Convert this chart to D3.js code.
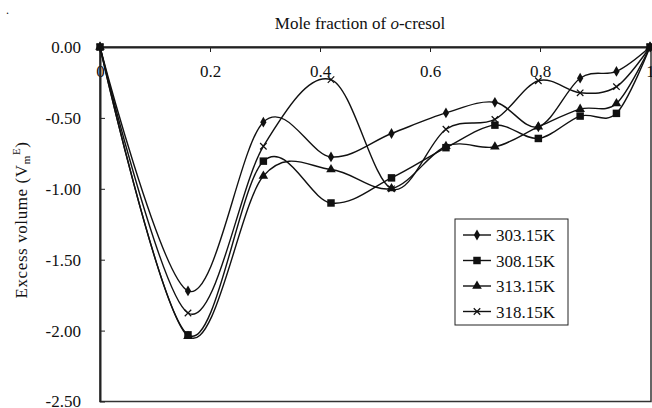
<!DOCTYPE html>
<html>
<head>
<meta charset="utf-8">
<script src="https://cdn.jsdelivr.net/npm/d3@7"></script>
<style>
  body { margin: 0; background: #fff; }
  svg text { font-family: "Liberation Serif", "Times New Roman", Tinos, "DejaVu Serif", serif; fill: #111; }
</style>
</head>
<body>
<div id="chart"></div>
<script>
// mole fraction of o-cresol
const moleFraction = [0, 0.16, 0.297, 0.42, 0.53, 0.629, 0.718, 0.797, 0.873, 0.939, 1];

// excess volume per temperature
const v303 = [0, -1.72, -0.53, -0.775, -0.61, -0.465, -0.39, -0.563, -0.22, -0.172, 0];
const v308 = [0, -2.03, -0.805, -1.10, -0.923, -0.71, -0.551, -0.645, -0.487, -0.468, 0];
const v313 = [0, -2.04, -0.91, -0.864, -0.998, -0.70, -0.704, -0.563, -0.438, -0.398, 0];
const v318 = [0, -1.876, -0.70, -0.23, -1.0, -0.58, -0.511, -0.238, -0.323, -0.28, 0];

const seriesNames = ["303.15K", "308.15K", "313.15K", "318.15K"];
const seriesValues = [v303, v308, v313, v318];
const markerKinds = ["diamond", "square", "triangle", "cross"];

const xTicks = [0, 0.2, 0.4, 0.6, 0.8, 1];
const yTicks = [0, -0.5, -1, -1.5, -2, -2.5];

const width = 652, height = 408;
const plot = { left: 100, top: 47, right: 651, bottom: 401.5 };
const serif = "'Liberation Serif', 'Times New Roman', Tinos, 'DejaVu Serif', serif";

const svg = d3.select("#chart").append("svg")
    .attr("width", width)
    .attr("height", height)
    .attr("font-family", serif);

const x = d3.scaleLinear().domain([0, 1]).range([plot.left, 650]);
const y = d3.scaleLinear().domain([0, -2.5]).range([plot.top, plot.bottom]);

// plot frame (right + bottom)
svg.append("rect")
    .attr("x", plot.left)
    .attr("y", plot.top)
    .attr("width", plot.right - plot.left)
    .attr("height", plot.bottom - plot.top)
    .attr("fill", "none")
    .attr("stroke", "#333")
    .attr("stroke-width", 1.5);

// top x axis, ticks pointing into the plot
const xAxis = svg.append("g")
    .attr("transform", `translate(0,${plot.top})`)
    .call(d3.axisBottom(x)
        .tickValues(xTicks)
        .tickSizeInner(5)
        .tickSizeOuter(0)
        .tickPadding(13)
        .tickFormat(d => d === 0 ? "0" : d === 1 ? "1" : d.toFixed(1)));
xAxis.attr("font-family", serif).attr("font-size", 17);
xAxis.select(".domain").attr("stroke", "#222").attr("stroke-width", 2);
xAxis.selectAll(".tick line").attr("stroke", "#222");
xAxis.selectAll("text").attr("fill", "#111");

// left y axis
const yAxis = svg.append("g")
    .attr("transform", `translate(${plot.left},0)`)
    .call(d3.axisLeft(y)
        .tickValues(yTicks)
        .tickSizeInner(-5)
        .tickSizeOuter(0)
        .tickPadding(19)
        .tickFormat(d => d.toFixed(2)));
yAxis.attr("font-family", serif).attr("font-size", 17);
yAxis.select(".domain").attr("stroke", "#222").attr("stroke-width", 2);
yAxis.selectAll(".tick line").attr("stroke", "#222");
yAxis.selectAll("text").attr("fill", "#111");

// axis titles
const xTitle = svg.append("text")
    .attr("x", 360)
    .attr("y", 29)
    .attr("text-anchor", "middle")
    .attr("font-size", 17);
xTitle.append("tspan").text("Mole fraction of ");
xTitle.append("tspan").attr("font-style", "italic").text("o");
xTitle.append("tspan").text("-cresol");

const yTitle = svg.append("text")
    .attr("transform", "translate(27,220) rotate(-90)")
    .attr("text-anchor", "middle")
    .attr("font-size", 17)
    .attr("letter-spacing", 0.6);
yTitle.append("tspan").text("Excess volume (V");
yTitle.append("tspan").attr("font-size", 11).attr("dy", 3).text("m");
yTitle.append("tspan").attr("font-size", 11).attr("dy", -10).text("E");
yTitle.append("tspan").attr("dy", 7).text(")");

// stray dot in the top-left corner of the original figure
svg.append("text").attr("x", 6).attr("y", 14).attr("font-size", 12).text(".");

// series
const line = d3.line()
    .x(d => x(d[0]))
    .y(d => y(d[1]))
    .curve(d3.curveCardinal.tension(0));

const crossSymbol = {
    draw(ctx, size) {
        const r = Math.sqrt(size) / 2;
        ctx.moveTo(-r, -r); ctx.lineTo(r, r);
        ctx.moveTo(r, -r); ctx.lineTo(-r, r);
    }
};

function drawMarker(g, kind, cx, cy) {
    if (kind === "cross") {
        g.append("path")
            .attr("d", d3.symbol(crossSymbol, 42)())
            .attr("transform", `translate(${cx},${cy})`)
            .attr("fill", "none")
            .attr("stroke", "#111")
            .attr("stroke-width", 1.2);
        return;
    }
    const type = kind === "diamond" ? d3.symbolDiamond : kind === "square" ? d3.symbolSquare : d3.symbolTriangle;
    const size = kind === "diamond" ? 34 : kind === "square" ? 56 : 40;
    g.append("path")
        .attr("d", d3.symbol(type, size)())
        .attr("transform", `translate(${cx},${cy})`)
        .attr("fill", "#111");
}

seriesValues.forEach((vals, i) => {
    const pts = moleFraction.map((m, j) => [m, vals[j]]);
    const g = svg.append("g").attr("class", "series");
    g.append("path")
        .attr("d", line(pts))
        .attr("fill", "none")
        .attr("stroke", "#111")
        .attr("stroke-width", 1.4);
    pts.forEach(p => drawMarker(g, markerKinds[i], x(p[0]), y(p[1])));
});

// legend
const legend = svg.append("g").attr("transform", "translate(455,219)");
legend.append("rect")
    .attr("width", 113)
    .attr("height", 106)
    .attr("fill", "#fff")
    .attr("stroke", "#222")
    .attr("stroke-width", 1);
seriesNames.forEach((name, i) => {
    const ry = 16 + i * 25.5;
    legend.append("line")
        .attr("x1", 8).attr("x2", 36)
        .attr("y1", ry).attr("y2", ry)
        .attr("stroke", "#111").attr("stroke-width", 1.4);
    drawMarker(legend, markerKinds[i], 22, ry);
    legend.append("text")
        .attr("x", 41)
        .attr("y", ry + 6)
        .attr("font-size", 17)
        .text(name);
});
</script>
</body>
</html>
